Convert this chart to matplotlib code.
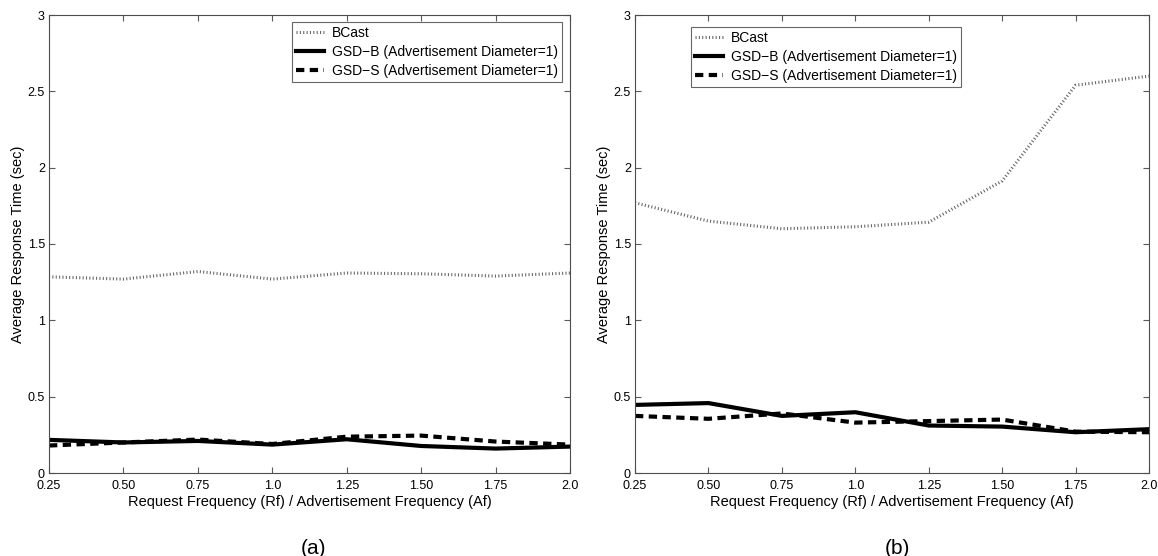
import numpy as np
from matplotlib import pyplot as plt

plt.rcParams['font.family'] = ['Liberation Sans', 'DejaVu Sans']

x_vals = [0.25, 0.50, 0.75, 1.0, 1.25, 1.50, 1.75, 2.0]
x_labels = ['0.25', '0.50', '0.75', '1.0', '1.25', '1.50', '1.75', '2.0']

# panel (a)
bcast_a = [1.285, 1.27, 1.32, 1.27, 1.31, 1.305, 1.29, 1.31]
gsdb_a = [0.217, 0.20, 0.21, 0.186, 0.221, 0.177, 0.16, 0.173]
gsds_a = [0.18, 0.20, 0.219, 0.19, 0.238, 0.245, 0.206, 0.186]

# panel (b)
bcast_b = [1.77, 1.65, 1.60, 1.613, 1.643, 1.913, 2.54, 2.60]
gsdb_b = [0.446, 0.458, 0.374, 0.398, 0.311, 0.304, 0.267, 0.287]
gsds_b = [0.374, 0.355, 0.39, 0.33, 0.34, 0.35, 0.271, 0.267]

names = ['BCast', 'GSD\u2212B (Advertisement Diameter=1)', 'GSD\u2212S (Advertisement Diameter=1)']

fig = plt.figure(figsize=(11.58, 5.56), dpi=100)
W, H = 1158.0, 556.0
TOP, BOT = 15, 473

# pixel boxes: axes left/right, legend left/top, caption centre
panels = [
    (49, 570, bcast_a, gsdb_a, gsds_a, '(a)', (292, 22), 314),
    (635, 1149, bcast_b, gsdb_b, gsds_b, '(b)', (691, 27), 897),
]

for left, right, bc, gb, gs, cap, leg, capx in panels:
    ax = fig.add_axes([left / W, 1 - BOT / H, (right - left) / W, (BOT - TOP) / H])
    ax.plot(x_vals, bc, linestyle=(0, (0.35, 0.75)), color='0.4', linewidth=2.2, label=names[0])
    ax.plot(x_vals, gb, '-', color='black', linewidth=3, label=names[1])
    ax.plot(x_vals, gs, linestyle=(0, (2.0, 1.3)), color='black', linewidth=3, label=names[2])
    ax.set_xlim(0.25, 2.0)
    ax.set_ylim(0, 3)
    ax.set_xticks(x_vals)
    ax.set_xticklabels(x_labels)
    ax.set_yticks([0, 0.5, 1, 1.5, 2, 2.5, 3])
    ax.set_yticklabels(['0', '0.5', '1', '1.5', '2', '2.5', '3'])
    ax.tick_params(direction='in', top=True, right=True, labelsize=9, length=4.5, color='0.35')
    ax.tick_params(axis='x', pad=5)
    ax.tick_params(axis='y', pad=3)
    for s in ax.spines.values():
        s.set_color('0.3')
        s.set_linewidth(0.8)
    ax.set_xlabel('Request Frequency (Rf) / Advertisement Frequency (Af)', fontsize=10.5, labelpad=2)
    ax.set_ylabel('Average Response Time (sec)', fontsize=10.5, labelpad=2)
    lx0, ly0 = leg
    lg = ax.legend(loc='upper left',
                   bbox_to_anchor=((lx0 - left) / (right - left), (BOT - ly0) / (BOT - TOP)),
                   fontsize=10, frameon=True, fancybox=False, edgecolor='0.25',
                   borderpad=0.3, labelspacing=0.35, handlelength=2.0, handletextpad=0.6,
                   borderaxespad=0)
    lg.get_frame().set_linewidth(0.8)
    fig.text(capx / W, 1 - 548 / H, cap, ha='center', va='center', fontsize=15)

fig.savefig('out.png', dpi=100)
